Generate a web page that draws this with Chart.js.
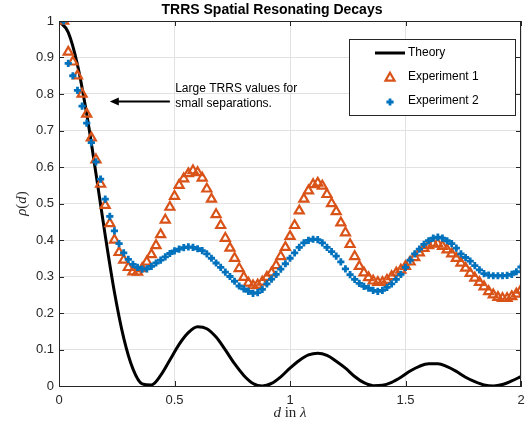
<!DOCTYPE html>
<html>
<head>
<meta charset="utf-8">
<script src="https://cdn.jsdelivr.net/npm/chart.js@4"></script>
<style>
html, body { margin: 0; padding: 0; background: #fff; }
</style>
</head>
<body>
<canvas id="decayChart" width="529" height="425"></canvas>
<script>
// separation d (in wavelengths) for the measured points
const dExp = [
  0.02, 0.04, 0.06, 0.08, 0.10, 0.12, 0.14, 0.16, 0.18, 0.20,
  0.22, 0.24, 0.26, 0.28, 0.30, 0.32, 0.34, 0.36, 0.38, 0.40,
  0.42, 0.44, 0.46, 0.48, 0.50, 0.52, 0.54, 0.56, 0.58, 0.60,
  0.62, 0.64, 0.66, 0.68, 0.70, 0.72, 0.74, 0.76, 0.78, 0.80,
  0.82, 0.84, 0.86, 0.88, 0.90, 0.92, 0.94, 0.96, 0.98, 1.00,
  1.02, 1.04, 1.06, 1.08, 1.10, 1.12, 1.14, 1.16, 1.18, 1.20,
  1.22, 1.24, 1.26, 1.28, 1.30, 1.32, 1.34, 1.36, 1.38, 1.40,
  1.42, 1.44, 1.46, 1.48, 1.50, 1.52, 1.54, 1.56, 1.58, 1.60,
  1.62, 1.64, 1.66, 1.68, 1.70, 1.72, 1.74, 1.76, 1.78, 1.80,
  1.82, 1.84, 1.86, 1.88, 1.90, 1.92, 1.94, 1.96, 1.98, 2.00
];
const exp1 = [
  1.000, 0.915, 0.888, 0.850, 0.800, 0.745, 0.680, 0.620, 0.553, 0.495,
  0.445, 0.400, 0.366, 0.345, 0.325, 0.313, 0.312, 0.322, 0.340, 0.360,
  0.385, 0.415, 0.455, 0.490, 0.520, 0.550, 0.568, 0.582, 0.590, 0.585,
  0.570, 0.540, 0.512, 0.470, 0.440, 0.405, 0.378, 0.350, 0.322, 0.298,
  0.282, 0.275, 0.277, 0.285, 0.298, 0.310, 0.330, 0.355, 0.380, 0.410,
  0.440, 0.480, 0.512, 0.535, 0.552, 0.556, 0.548, 0.525, 0.500, 0.478,
  0.447, 0.420, 0.388, 0.355, 0.328, 0.310, 0.297, 0.288, 0.284, 0.284,
  0.290, 0.300, 0.310, 0.318, 0.328, 0.340, 0.352, 0.365, 0.377, 0.385,
  0.390, 0.389, 0.383, 0.373, 0.362, 0.350, 0.337, 0.323, 0.309, 0.296,
  0.284, 0.272, 0.259, 0.250, 0.243, 0.240, 0.240, 0.245, 0.252, 0.263
];
const exp2 = [
  1.000, 0.884, 0.850, 0.810, 0.767, 0.720, 0.667, 0.614, 0.567, 0.512,
  0.465, 0.425, 0.390, 0.365, 0.347, 0.333, 0.325, 0.320, 0.321, 0.328,
  0.337, 0.345, 0.354, 0.363, 0.370, 0.375, 0.379, 0.381, 0.380, 0.376,
  0.371, 0.362, 0.350, 0.337, 0.325, 0.312, 0.300, 0.287, 0.274, 0.266,
  0.259, 0.254, 0.256, 0.265, 0.280, 0.293, 0.306, 0.320, 0.335, 0.350,
  0.365, 0.380, 0.392, 0.399, 0.402, 0.401, 0.392, 0.380, 0.368, 0.356,
  0.340, 0.321, 0.305, 0.292, 0.281, 0.273, 0.268, 0.262, 0.259, 0.262,
  0.270, 0.280, 0.292, 0.306, 0.325, 0.345, 0.362, 0.375, 0.388, 0.398,
  0.405, 0.408, 0.405, 0.398, 0.390, 0.378, 0.362, 0.352, 0.342, 0.330,
  0.318, 0.308, 0.304, 0.302, 0.302, 0.302, 0.303, 0.306, 0.313, 0.326
];

// theory curve
const dTheory = [
  0.00, 0.04, 0.08, 0.12, 0.16, 0.20, 0.24, 0.28, 0.32, 0.36,
  0.40, 0.44, 0.48, 0.52, 0.56, 0.60, 0.64, 0.68, 0.72, 0.76,
  0.80, 0.84, 0.88, 0.92, 0.96, 1.00, 1.04, 1.08, 1.12, 1.16,
  1.20, 1.24, 1.28, 1.32, 1.36, 1.40, 1.44, 1.48, 1.52, 1.56,
  1.60, 1.64, 1.68, 1.72, 1.76, 1.80, 1.84, 1.88, 1.92, 1.96, 2.00
];
const theory = [
  1.000, 0.969, 0.880, 0.745, 0.582, 0.413, 0.257, 0.132, 0.047, 0.006,
  0.003, 0.029, 0.071, 0.114, 0.146, 0.162, 0.157, 0.134, 0.099, 0.061,
  0.029, 0.007, 0.000, 0.007, 0.025, 0.049, 0.070, 0.085, 0.090, 0.084,
  0.068, 0.049, 0.026, 0.009, 0.001, 0.002, 0.010, 0.024, 0.041, 0.054,
  0.061, 0.061, 0.053, 0.040, 0.024, 0.012, 0.003, 0.000, 0.004, 0.014, 0.026
];

const xTicks = [0, 0.5, 1, 1.5, 2];
const yTicks = [0, 0.1, 0.2, 0.3, 0.4, 0.5, 0.6, 0.7, 0.8, 0.9, 1];

const chartTitle = 'TRRS Spatial Resonating Decays';
const noteLines = ['Large TRRS values for', 'small separations.'];

const ORANGE = '#D95319';
const BLUE = '#0072BD';
const AXIS = '#262626';
const SANS = '"Liberation Sans", Arial, Helvetica, sans-serif';
const SERIF = '"Liberation Serif", "Times New Roman", serif';

const pairs = (xs, ys) => xs.map((x, i) => ({ x: x, y: ys[i] }));
const tickText = v => String(+v.toFixed(2));

// draws pieces of text with their own fonts one after another
function drawRun(ctx, parts, x, y, align) {
  let total = 0;
  parts.forEach(p => { ctx.font = p.font; total += ctx.measureText(p.text).width; });
  let cx = align === 'center' ? x - total / 2 : x;
  ctx.textAlign = 'left';
  parts.forEach(p => {
    ctx.font = p.font;
    ctx.fillText(p.text, cx, y);
    cx += ctx.measureText(p.text).width;
  });
}

const decor = {
  id: 'decor',
  afterDraw(chart) {
    const { ctx, chartArea: a, scales: { x, y } } = chart;
    const ds = chart.data.datasets;
    ctx.save();

    // box and inward ticks on all four sides
    ctx.strokeStyle = AXIS;
    ctx.lineWidth = 1;
    ctx.strokeRect(a.left + 0.5, a.top + 0.5, a.right - a.left - 1, a.bottom - a.top);
    ctx.beginPath();
    xTicks.forEach(v => {
      const px = Math.round(x.getPixelForValue(v)) + 0.5;
      ctx.moveTo(px, a.bottom); ctx.lineTo(px, a.bottom - 5);
      ctx.moveTo(px, a.top); ctx.lineTo(px, a.top + 5);
    });
    yTicks.forEach(v => {
      const py = Math.round(y.getPixelForValue(v)) + 0.5;
      ctx.moveTo(a.left, py); ctx.lineTo(a.left + 5, py);
      ctx.moveTo(a.right, py); ctx.lineTo(a.right - 5, py);
    });
    ctx.stroke();

    // title
    ctx.fillStyle = '#000';
    ctx.font = 'bold 14px ' + SANS;
    ctx.textAlign = 'center';
    ctx.textBaseline = 'middle';
    ctx.fillText(chartTitle, 272, 10);

    // axis labels
    ctx.fillStyle = AXIS;
    drawRun(ctx, [
      { text: 'd', font: 'italic 15px ' + SERIF },
      { text: ' in ', font: '15px ' + SERIF },
      { text: 'λ', font: 'italic 15px ' + SERIF }
    ], (a.left + a.right) / 2, 413, 'center');
    ctx.save();
    ctx.translate(22, (a.top + a.bottom) / 2);
    ctx.rotate(-Math.PI / 2);
    drawRun(ctx, [
      { text: 'ρ', font: 'italic 15px ' + SERIF },
      { text: '(', font: '15px ' + SERIF },
      { text: 'd', font: 'italic 15px ' + SERIF },
      { text: ')', font: '15px ' + SERIF }
    ], 0, 0, 'center');
    ctx.restore();

    // annotation with arrow
    const tipX = x.getPixelForValue(0.22);
    const tailX = x.getPixelForValue(0.48);
    const ay = Math.round(y.getPixelForValue(0.782)) + 0.5;
    ctx.strokeStyle = '#000';
    ctx.fillStyle = '#000';
    ctx.lineWidth = 2;
    ctx.beginPath();
    ctx.moveTo(tailX, ay); ctx.lineTo(tipX + 6, ay);
    ctx.stroke();
    ctx.beginPath();
    ctx.moveTo(tipX, ay); ctx.lineTo(tipX + 9, ay - 4); ctx.lineTo(tipX + 9, ay + 4);
    ctx.closePath();
    ctx.fill();
    ctx.font = '12px ' + SANS;
    ctx.textAlign = 'left';
    ctx.fillStyle = '#000';
    ctx.fillText(noteLines[0], x.getPixelForValue(0.503), y.getPixelForValue(0.815));
    ctx.fillText(noteLines[1], x.getPixelForValue(0.503), y.getPixelForValue(0.773));

    // legend box in the top right corner
    const bx = a.right - 172, by = a.top + 18, bw = 166, bh = 76;
    ctx.fillStyle = '#fff';
    ctx.fillRect(bx, by, bw, bh);
    ctx.strokeStyle = AXIS;
    ctx.lineWidth = 1;
    ctx.strokeRect(bx + 0.5, by + 0.5, bw, bh);
    ctx.font = '12px ' + SANS;
    ctx.fillStyle = '#000';
    ctx.textAlign = 'left';
    ctx.textBaseline = 'middle';
    const rows = [by + 14, by + 38, by + 62];
    ds.forEach((d, i) => {
      const ry = rows[i];
      if (i === 0) {
        ctx.strokeStyle = '#000';
        ctx.lineWidth = 3;
        ctx.beginPath();
        ctx.moveTo(bx + 26, ry); ctx.lineTo(bx + 56, ry);
        ctx.stroke();
      } else {
        ctx.strokeStyle = d.borderColor;
        ctx.fillStyle = d.backgroundColor;
        ctx.lineWidth = d.pointBorderWidth;
        Chart.helpers.drawPoint(ctx, {
          pointStyle: d.pointStyle, radius: d.pointRadius, rotation: 0,
          borderWidth: d.pointBorderWidth
        }, bx + 41, ry + 1);
      }
      ctx.fillStyle = '#000';
      ctx.fillText(d.label, bx + 59, ry);
    });
    ctx.restore();
  }
};

new Chart(document.getElementById('decayChart').getContext('2d'), {
  type: 'scatter',
  data: {
    datasets: [{
      label: 'Theory',
      data: pairs(dTheory, theory),
      showLine: true,
      borderColor: '#000',
      backgroundColor: '#000',
      borderWidth: 3,
      pointRadius: 0,
      cubicInterpolationMode: 'monotone',
      order: 3
    }, {
      label: 'Experiment 1',
      data: pairs(dExp, exp1),
      pointStyle: 'triangle',
      pointRadius: 5.2,
      pointBorderWidth: 2.2,
      borderColor: ORANGE,
      backgroundColor: 'rgba(255,255,255,0)',
      order: 2
    }, {
      label: 'Experiment 2',
      data: pairs(dExp, exp2),
      pointStyle: 'cross',
      pointRadius: 3.6,
      pointBorderWidth: 2.8,
      borderColor: BLUE,
      backgroundColor: BLUE,
      order: 1
    }]
  },
  options: {
    responsive: false,
    animation: false,
    layout: { padding: { top: 21, right: 8, left: 0, bottom: 0 } },
    plugins: {
      legend: { display: false },
      title: { display: false },
      tooltip: { enabled: false }
    },
    scales: {
      x: {
        type: 'linear',
        min: 0,
        max: 2,
        afterFit: s => { s.height = 39; s.paddingLeft = 0; s.paddingRight = 0; },
        afterBuildTicks: s => { s.ticks = xTicks.map(v => ({ value: v })); },
        grid: { color: '#e2e2e2', drawTicks: false },
        border: { color: AXIS },
        ticks: { color: AXIS, padding: 7, font: { family: SANS, size: 13 }, callback: tickText }
      },
      y: {
        min: 0,
        max: 1,
        afterFit: s => { s.width = 59; s.paddingTop = 0; s.paddingBottom = 0; },
        afterBuildTicks: s => { s.ticks = yTicks.map(v => ({ value: v })); },
        grid: { color: '#e2e2e2', drawTicks: false },
        border: { color: AXIS },
        ticks: { color: AXIS, padding: 5, font: { family: SANS, size: 13 }, callback: tickText }
      }
    }
  },
  plugins: [decor]
});
</script>
</body>
</html>
